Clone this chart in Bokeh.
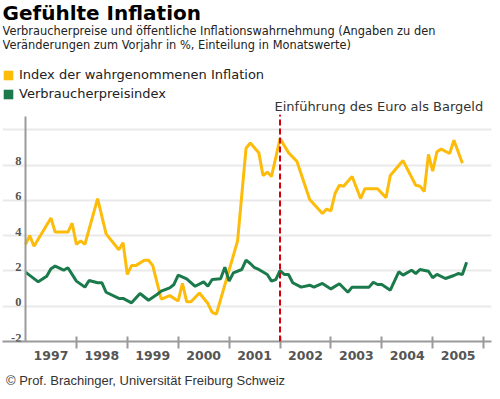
from bokeh.plotting import figure
from bokeh.models import (FixedTicker, Label, LabelSet, Legend, LegendItem,
                          ColumnDataSource, Arrow, LinearAxis)
from bokeh.embed import file_html
from bokeh.resources import INLINE

# ---------------- data ----------------
perceived_months = [
    "1997-01", "1997-02", "1997-03", "1997-07", "1997-08", "1997-11", "1997-12",
    "1998-01", "1998-02", "1998-03", "1998-06", "1998-08", "1998-11", "1998-12",
    "1999-01", "1999-02", "1999-03", "1999-05", "1999-06", "1999-07", "1999-09", "1999-11",
    "2000-01", "2000-02", "2000-03", "2000-04", "2000-06", "2000-08", "2000-09", "2000-10",
    "2001-03", "2001-05", "2001-06", "2001-08", "2001-09", "2001-10", "2001-11",
    "2002-01", "2002-03", "2002-05", "2002-08", "2002-11", "2002-12",
    "2003-01", "2003-02", "2003-03", "2003-04", "2003-06", "2003-08", "2003-09", "2003-12",
    "2004-02", "2004-03", "2004-06", "2004-09", "2004-10", "2004-11", "2004-12",
    "2005-01", "2005-02", "2005-03", "2005-05", "2005-06", "2005-08",
]
perceived_values = [
    3.5, 4.0, 3.4, 5.0, 4.2, 4.2, 4.7,
    3.5, 3.7, 3.5, 6.1, 4.1, 3.2, 3.6,
    1.8, 2.3, 2.3, 2.6, 2.6, 2.3, 0.4, 0.6,
    0.3, 1.3, 0.25, 0.25, 0.75, 0.15, -0.35, -0.45,
    3.7, 8.95, 9.25, 8.7, 7.4, 7.6, 7.35,
    9.5, 8.7, 8.2, 6.05, 5.25, 5.5,
    5.4, 6.4, 6.85, 6.8, 7.35, 6.1, 6.65, 6.65,
    6.15, 7.4, 8.25, 6.85, 6.8, 6.5, 8.6,
    7.65, 8.75, 8.9, 8.65, 9.4, 8.1,
]

cpi_months = [
    "1997-01", "1997-04", "1997-06", "1997-07", "1997-08", "1997-10", "1997-11",
    "1998-01", "1998-03", "1998-04", "1998-06", "1998-07", "1998-08", "1998-11", "1998-12",
    "1999-02", "1999-04", "1999-06", "1999-08", "1999-09", "1999-11", "1999-12",
    "2000-01", "2000-03", "2000-05", "2000-07", "2000-08", "2000-09", "2000-11", "2000-12",
    "2001-01", "2001-02", "2001-04", "2001-05", "2001-06", "2001-07", "2001-08", "2001-10",
    "2001-11", "2001-12",
    "2002-01", "2002-02", "2002-03", "2002-04", "2002-06", "2002-08", "2002-09", "2002-11",
    "2003-01", "2003-03", "2003-05", "2003-06", "2003-10", "2003-11", "2003-12",
    "2004-01", "2004-03", "2004-05", "2004-06", "2004-08", "2004-09", "2004-10", "2004-12",
    "2005-01", "2005-02", "2005-04", "2005-06", "2005-07", "2005-08", "2005-09",
]
cpi_values = [
    1.93, 1.38, 1.7, 2.12, 2.27, 2.04, 2.18,
    1.42, 1.08, 1.46, 1.33, 1.33, 0.79, 0.44, 0.44,
    0.19, 0.72, 0.34, 0.66, 0.85, 1.04, 1.23,
    1.76, 1.55, 1.13, 1.38, 1.13, 1.51, 1.55, 2.21,
    1.42, 1.89, 2.08, 2.61, 2.42, 2.18, 2.08, 1.8,
    1.42, 1.51,
    2.02, 1.8, 1.8, 1.33, 1.08, 1.19, 1.08, 1.29,
    0.98, 1.27, 0.79, 1.08, 1.08, 1.36, 1.23,
    1.23, 0.91, 1.95, 1.76, 2.04, 1.85, 2.08, 1.98,
    1.61, 1.8, 1.57, 1.74, 1.85, 1.8, 2.49,
]

year_labels = ["1997", "1998", "1999", "2000", "2001", "2002", "2003", "2004", "2005"]
year_bounds = [1998, 1999, 2000, 2001, 2002, 2003, 2004, 2005, 2006]
y_grid_values = [-2, 0, 2, 4, 6, 8, 10]
y_tick_values = [-2, 0, 2, 4, 6, 8]
y_tick_labels = ["-2", "0", "2", "4", "6", "8"]
euro_date = 2002.0
axis_origin = 1997.0

# ---------------- style ----------------
YELLOW = "#FDBB0A"
GREEN = "#1B7A4B"
AXIS = "#9a9a9a"
GRID = "#e9e9e9"
RED = "#D4000F"
FONT = "DejaVu Sans"


def to_decimal(months):
    return [int(s[:4]) + (int(s[5:7]) - 1) / 12.0 for s in months]


# geometry (figure pixels)
W, H = 492, 391
FRAME_L, FRAME_R = 2, 491
FRAME_B = 341
AXIS_PX = 25            # pixel column of the 1997 origin
PX_YEAR = 50.9
PX_UNIT = 17.65
x_start = axis_origin - (AXIS_PX - FRAME_L) / PX_YEAR
x_end = x_start + (FRAME_R - FRAME_L) / PX_YEAR
y_start = -2
y_end = y_start + FRAME_B / PX_UNIT
axis_top = 10.75
euro_top = 10.85

p = figure(width=W, height=H, x_range=(x_start, x_end), y_range=(y_start, y_end),
           output_backend="svg", toolbar_location=None,
           min_border_left=FRAME_L, min_border_right=W - FRAME_R,
           min_border_top=0, min_border_bottom=H - FRAME_B)
p.outline_line_color = None
p.background_fill_color = "white"
p.border_fill_color = "white"

# x axis
xa = p.xaxis[0]
xa.ticker = FixedTicker(ticks=[int(l) + 0.5 for l in year_labels], minor_ticks=year_bounds)
xa.major_label_overrides = {int(l) + 0.5: l for l in year_labels}
xa.major_tick_in = 0
xa.major_tick_out = 0
xa.major_tick_line_color = None
xa.minor_tick_in = 5
xa.minor_tick_out = 7
xa.minor_tick_line_color = AXIS
xa.minor_tick_line_width = 2
xa.axis_line_color = AXIS
xa.axis_line_width = 2
xa.major_label_text_font = FONT
xa.major_label_text_font_style = "bold"
xa.major_label_text_font_size = "12.5px"
xa.major_label_text_color = "#555555"
xa.major_label_standoff = 2

# footer as a second, bare axis below the first
FOOTER = "© Prof. Brachinger, Universität Freiburg Schweiz"
footer_x = x_start + (145 - FRAME_L) / PX_YEAR
fa = LinearAxis(ticker=FixedTicker(ticks=[footer_x], minor_ticks=[]),
                major_label_overrides={footer_x: FOOTER},
                axis_line_color=None, major_tick_line_color=None, minor_tick_line_color=None,
                major_tick_in=0, major_tick_out=0, minor_tick_in=0, minor_tick_out=0,
                major_label_standoff=10,
                major_label_text_font="Liberation Sans", major_label_text_font_size="13px",
                major_label_text_color="#333333")
p.add_layout(fa, "below")

# y axis: hidden, labels drawn with a LabelSet through the y scale
p.yaxis.visible = False
p.xgrid.visible = False
p.ygrid.ticker = FixedTicker(ticks=y_grid_values)
p.ygrid.grid_line_color = GRID
p.ygrid.grid_line_width = 2

ylab_src = ColumnDataSource(dict(y=y_tick_values, text=y_tick_labels))
p.add_layout(LabelSet(x=21 - FRAME_L, y="y", text="text", source=ylab_src, x_units="screen",
                      text_align="right", text_baseline="bottom", text_font=FONT,
                      text_font_style="bold", text_font_size="12.5px",
                      text_color="#555555"))

# series
src_p = ColumnDataSource(dict(x=to_decimal(perceived_months), y=perceived_values))
src_c = ColumnDataSource(dict(x=to_decimal(cpi_months), y=cpi_values))
p.line("x", "y", source=src_p, line_color=YELLOW, line_width=3)
p.line("x", "y", source=src_c, line_color=GREEN, line_width=3)

# y axis line and euro line
p.add_layout(Arrow(end=None, x_start=axis_origin, x_end=axis_origin, y_start=y_start,
                   y_end=axis_top, line_color=AXIS, line_width=2))
p.add_layout(Arrow(end=None, x_start=euro_date, x_end=euro_date, y_start=y_start,
                   y_end=euro_top, line_color=RED, line_width=2, line_dash="6 3"))

# legend swatches (hidden quads on the same data, only used for the legend)
sw1 = p.quad(left="x", right="x", top="y", bottom="y", source=src_p,
             fill_color=YELLOW, line_color=None, visible=False)
sw2 = p.quad(left="x", right="x", top="y", bottom="y", source=src_c,
             fill_color=GREEN, line_color=None, visible=False)
legend = Legend(items=[LegendItem(label="Index der wahrgenommenen Inflation", renderers=[sw1]),
                       LegendItem(label="Verbraucherpreisindex", renderers=[sw2])],
                location=(0, 240), orientation="vertical",
                glyph_width=12, glyph_height=12, label_height=12, spacing=4,
                label_standoff=5, padding=0, margin=0,
                border_line_color=None, background_fill_alpha=0,
                inactive_fill_alpha=0,
                label_text_font=FONT, label_text_font_size="13px",
                label_text_color="#222222")
p.add_layout(legend)


def lab(text, x, y, size, style="normal", font=FONT, color="#222222", baseline="middle"):
    # x, y: picture pixels -> screen units relative to the frame (y up from the x axis)
    p.add_layout(Label(x=x - FRAME_L, y=FRAME_B - y, x_units="screen", y_units="screen",
                       text=text, text_font=font, text_font_size=size,
                       text_font_style=style, text_color=color,
                       text_baseline=baseline, text_align="left"))


lab("Gefühlte Inflation", 2, 12, "20px", style="bold", color="black")
lab("Verbraucherpreise und öffentliche Inflationswahrnehmung (Angaben zu den", 2, 30, "11.4px")
lab("Veränderungen zum Vorjahr in %, Einteilung in Monatswerte)", 2, 44.5, "11.4px")
lab("Einführung des Euro als Bargeld", 274, 106, "13px", color="#333333")

open("out.html", "w").write(file_html(p, INLINE))
